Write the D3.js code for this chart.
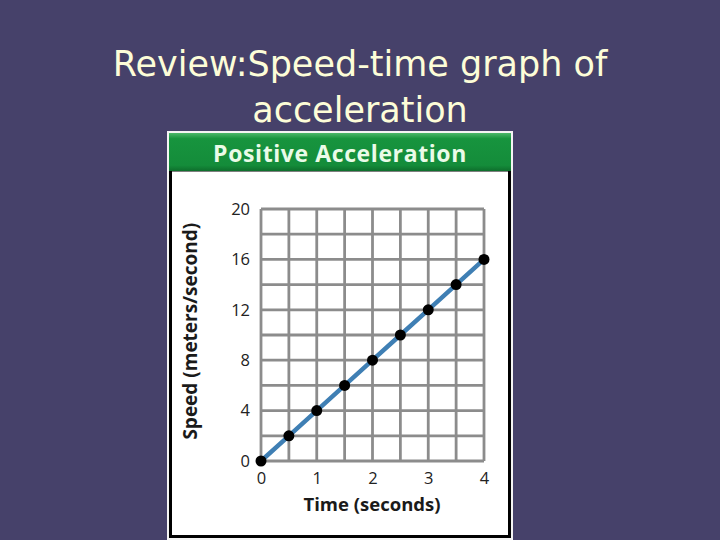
<!DOCTYPE html>
<html><head><meta charset="utf-8">
<script src="https://cdn.jsdelivr.net/npm/d3@7"></script>
<style>html,body{margin:0;padding:0;background:#46416a;}svg{display:block;}</style>
</head><body>
<script>
const time = [0, 0.5, 1, 1.5, 2, 2.5, 3, 3.5, 4];
const speed = [0, 2, 4, 6, 8, 10, 12, 14, 16];
const xTicks = [0, 1, 2, 3, 4];
const yTicks = [0, 4, 8, 12, 16, 20];
const xGrid = [0, 0.5, 1, 1.5, 2, 2.5, 3, 3.5, 4];
const yGrid = [0, 2, 4, 6, 8, 10, 12, 14, 16, 18, 20];

const W = 720, H = 540;
const svg = d3.select("body").append("svg").attr("width", W).attr("height", H);
svg.append("rect").attr("width", W).attr("height", H).attr("fill", "#46416a");

const title = svg.append("text").attr("fill", "#fdfdd8")
  .attr("font-family", "DejaVu Sans, Verdana, sans-serif").attr("font-size", 35)
  .attr("text-anchor", "middle");
title.append("tspan").attr("x", 360).attr("y", 76).text("Review:Speed-time graph of");
title.append("tspan").attr("x", 360).attr("y", 122).text("acceleration");

// panel
svg.append("rect").attr("x", 167).attr("y", 131).attr("width", 346).attr("height", 409).attr("fill", "#f4f4f4");
svg.append("rect").attr("x", 170.5).attr("y", 170).attr("width", 339).attr("height", 366.5)
  .attr("fill", "#ffffff").attr("stroke", "#000").attr("stroke-width", 3);
const defs = svg.append("defs");
const lg = defs.append("linearGradient").attr("id", "hg").attr("x1", 0).attr("y1", 0).attr("x2", 0).attr("y2", 1);
lg.append("stop").attr("offset", 0).attr("stop-color", "#4cb86a");
lg.append("stop").attr("offset", 0.15).attr("stop-color", "#17943e");
lg.append("stop").attr("offset", 0.85).attr("stop-color", "#148c3a");
lg.append("stop").attr("offset", 1).attr("stop-color", "#0e6e2c");
svg.append("rect").attr("x", 169).attr("y", 133).attr("width", 342).attr("height", 38).attr("fill", "url(#hg)");
svg.append("text").attr("x", 340).attr("y", 162).attr("text-anchor", "middle")
  .attr("font-family", "Open Sans, DejaVu Sans, sans-serif").attr("font-weight", "bold").attr("font-size", 23)
  .attr("letter-spacing", 0.6)
  .attr("fill", "#eafbe8").text("Positive Acceleration");

const x = d3.scaleLinear().domain([0, 4]).range([261, 484]);
const y = d3.scaleLinear().domain([0, 20]).range([461, 209]);

const g = svg.append("g");
g.selectAll("line.vg").data(xGrid).join("line")
  .attr("x1", d => x(d)).attr("x2", d => x(d)).attr("y1", y(0)).attr("y2", y(20))
  .attr("stroke", "#8c8c8c").attr("stroke-width", 2.8);
g.selectAll("line.hg").data(yGrid).join("line")
  .attr("y1", d => y(d)).attr("y2", d => y(d)).attr("x1", x(0)).attr("x2", x(4))
  .attr("stroke", "#8c8c8c").attr("stroke-width", 2.8);

const xAxis = svg.append("g").attr("transform", `translate(0,${y(0)})`)
  .call(d3.axisBottom(x).tickValues(xTicks).tickSize(0).tickPadding(11).tickFormat(d3.format("d")));
const yAxis = svg.append("g").attr("transform", `translate(${x(0)},0)`)
  .call(d3.axisLeft(y).tickValues(yTicks).tickSize(0).tickPadding(11).tickFormat(d3.format("d")));
[xAxis, yAxis].forEach(a => {
  a.select(".domain").remove();
  a.selectAll("text").attr("font-family", "Open Sans, DejaVu Sans, sans-serif").attr("font-size", 16.5).attr("fill", "#222");
});

svg.append("text").attr("x", 372).attr("y", 511).attr("text-anchor", "middle")
  .attr("font-family", "Open Sans, DejaVu Sans, sans-serif").attr("font-weight", "bold").attr("font-size", 18.5)
  .attr("fill", "#1a1a1a").text("Time (seconds)");
svg.append("text").attr("transform", `translate(197,${y(10.3)}) rotate(-90)`).attr("text-anchor", "middle")
  .attr("font-family", "Open Sans, DejaVu Sans, sans-serif").attr("font-weight", "bold").attr("font-size", 19)
  .attr("fill", "#1a1a1a").text("Speed (meters/second)");

const pts = time.map((t, i) => [t, speed[i]]);
svg.append("path").datum(pts)
  .attr("d", d3.line().x(d => x(d[0])).y(d => y(d[1])))
  .attr("fill", "none").attr("stroke", "#3f7fb4").attr("stroke-width", 4.5);
svg.selectAll("circle.pt").data(pts).join("circle")
  .attr("cx", d => x(d[0])).attr("cy", d => y(d[1])).attr("r", 5.5).attr("fill", "#000");
</script>
</body></html>
